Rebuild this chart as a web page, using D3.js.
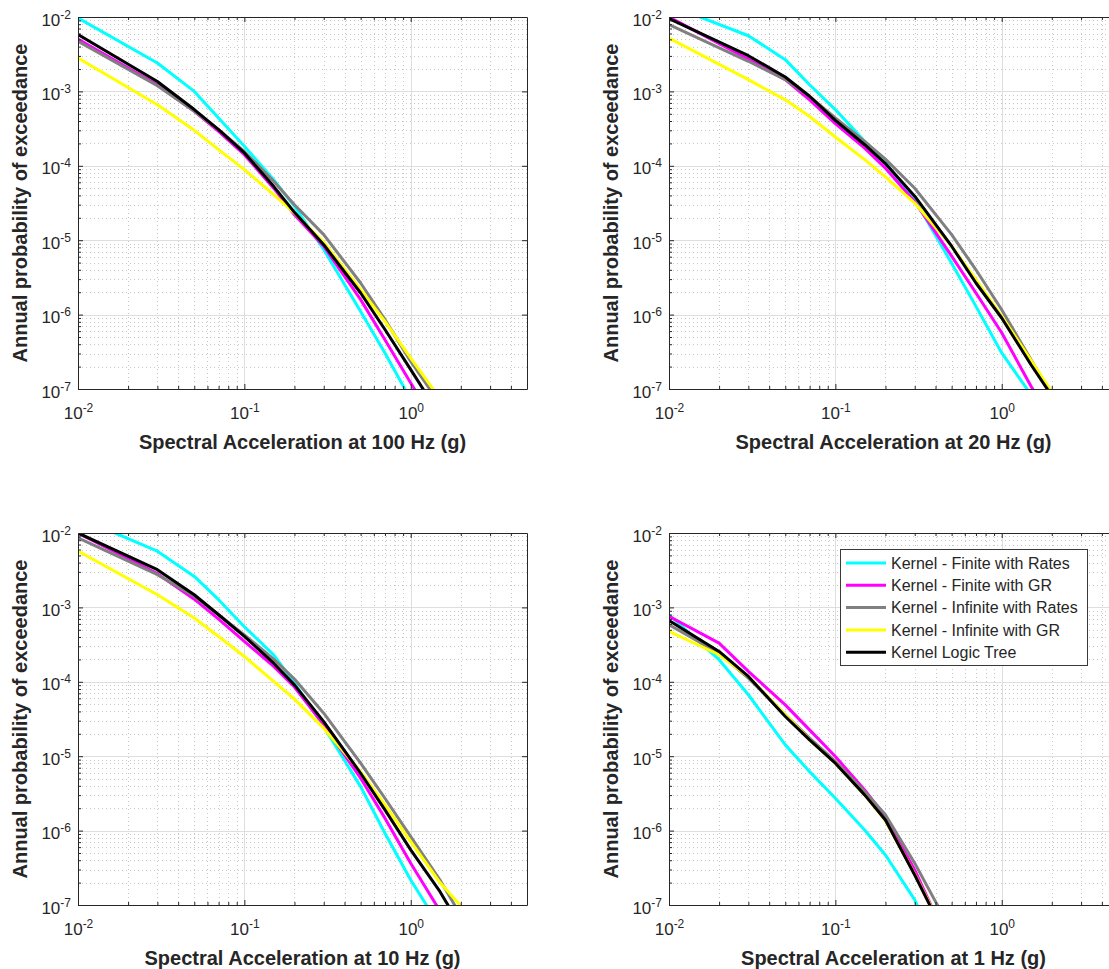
<!DOCTYPE html>
<html>
<head>
<meta charset="utf-8">
<script src="https://cdn.jsdelivr.net/npm/d3@7"></script>
<style>
  body { margin: 0; background: #fff; }
  svg { display: block; }
  text { font-family: "Liberation Sans", Arial, Helvetica, sans-serif; }
</style>
</head>
<body>
<svg id="chart" width="1109" height="969"></svg>
<script>
// ---------------- DATA ----------------
const seriesNames = [
  "Kernel - Finite with Rates",
  "Kernel - Finite with GR",
  "Kernel - Infinite with Rates",
  "Kernel - Infinite with GR",
  "Kernel Logic Tree"
];
const seriesColors = ["#00ffff", "#ff00ff", "#808080", "#ffff00", "#000000"];

const xDomain = [0.01, 5];
const yDomain = [1e-7, 1e-2];
const xTickValues = [0.01, 0.1, 1];
const yTickValues = [1e-7, 1e-6, 1e-5, 1e-4, 1e-3, 1e-2];

const xLabels = [
  "Spectral Acceleration at 100 Hz (g)",
  "Spectral Acceleration at 20 Hz (g)",
  "Spectral Acceleration at 10 Hz (g)",
  "Spectral Acceleration at 1 Hz (g)"
];
const yLabel = "Annual probability of exceedance";

// spectral acceleration grid (g)
const saGrid = [0.01, 0.03, 0.05, 0.07, 0.1, 0.15, 0.2, 0.3, 0.5, 0.7, 1.0, 1.5, 2.0];
const saGrid1Hz = [0.01, 0.02, 0.03, 0.05, 0.07, 0.1, 0.15, 0.2, 0.3, 0.4, 0.5];

// 100 Hz
const hz100FiniteRates   = [9.7e-3, 2.41e-3, 1.0e-3, 4.4e-4, 1.83e-4, 6.5e-5, 2.85e-5, 7.5e-6, 1.1e-6, 3.05e-7, 7.2e-8, 2e-8, 1e-8];
const hz100FiniteGR      = [5.06e-3, 1.23e-3, 5.4e-4, 2.9e-4, 1.41e-4, 5.0e-5, 2.2e-5, 8.3e-6, 1.59e-6, 4.6e-7, 1.2e-7, 2.8e-8, 1.2e-8];
const hz100InfiniteRates = [4.7e-3, 1.19e-3, 5.4e-4, 3.06e-4, 1.56e-4, 6.2e-5, 3.0e-5, 1.19e-5, 2.66e-6, 8.55e-7, 2.35e-7, 6.3e-8, 2.5e-8];
const hz100InfiniteGR    = [2.81e-3, 6.6e-4, 3.0e-4, 1.65e-4, 8.9e-5, 4.1e-5, 2.32e-5, 9.4e-6, 2.16e-6, 8.1e-7, 2.6e-7, 7.4e-8, 3e-8];
const hz100LogicTree     = [5.8e-3, 1.36e-3, 5.7e-4, 3.06e-4, 1.49e-4, 5.3e-5, 2.37e-5, 8.7e-6, 1.95e-6, 6.3e-7, 1.82e-7, 4.4e-8, 1.8e-8];

// 20 Hz
const hz20FiniteRates   = [1.45e-2, 5.6e-3, 2.67e-3, 1.23e-3, 5.7e-4, 2.13e-4, 1.09e-4, 3.5e-5, 4.9e-6, 1.29e-6, 3.05e-7, 8.4e-8, 3.2e-8];
const hz20FiniteGR      = [1.0e-2, 2.72e-3, 1.44e-3, 7.7e-4, 3.68e-4, 1.73e-4, 9.3e-5, 3.3e-5, 6.1e-6, 1.95e-6, 5.7e-7, 1.09e-7, 3.9e-8];
const hz20InfiniteRates = [7.9e-3, 2.54e-3, 1.44e-3, 8.6e-4, 4.39e-4, 2.13e-4, 1.23e-4, 5.0e-5, 1.19e-5, 4.0e-6, 1.16e-6, 2.48e-7, 8.1e-8];
const hz20InfiniteGR    = [5.2e-3, 1.44e-3, 7.7e-4, 4.6e-4, 2.44e-4, 1.21e-4, 7.1e-5, 3.16e-5, 8.3e-6, 2.95e-6, 9.5e-7, 2.43e-7, 9.1e-8];
const hz20LogicTree     = [9.5e-3, 3.02e-3, 1.56e-3, 8.6e-4, 4.08e-4, 1.92e-4, 1.07e-4, 3.9e-5, 8.3e-6, 2.66e-6, 9.0e-7, 2.12e-7, 8.1e-8];

// 10 Hz
const hz10FiniteRates   = [1.63e-2, 5.7e-3, 2.61e-3, 1.27e-3, 5.5e-4, 2.3e-4, 9.6e-5, 2.5e-5, 3.9e-6, 9.2e-7, 2.17e-7, 5.1e-8, 2.5e-8];
const hz10FiniteGR      = [1.0e-2, 2.84e-3, 1.29e-3, 6.97e-4, 3.49e-4, 1.61e-4, 8.5e-5, 2.64e-5, 5.06e-6, 1.47e-6, 3.64e-7, 8.3e-8, 4e-8];
const hz10InfiniteRates = [8.6e-3, 2.75e-3, 1.41e-3, 7.96e-4, 4.28e-4, 2.02e-4, 1.09e-4, 3.79e-5, 8.05e-6, 2.72e-6, 8.3e-7, 2.17e-7, 7.2e-8];
const hz10InfiniteGR    = [5.7e-3, 1.48e-3, 7.2e-4, 4.07e-4, 2.19e-4, 1.01e-4, 5.85e-5, 2.38e-5, 6.2e-6, 2.21e-6, 7.1e-7, 2.0e-7, 9.7e-8];
const hz10LogicTree     = [1.0e-2, 3.21e-3, 1.48e-3, 7.96e-4, 4.07e-4, 1.78e-4, 9.1e-5, 2.92e-5, 5.9e-6, 1.9e-6, 5.5e-7, 1.51e-7, 5.1e-8];

// 1 Hz
const hz1FiniteRates   = [7.96e-4, 1.98e-4, 6.7e-5, 1.42e-5, 6.2e-6, 2.72e-6, 1.02e-6, 4.7e-7, 1.17e-7, 2.9e-8, 1.5e-8];
const hz1FiniteGR      = [7.57e-4, 3.31e-4, 1.38e-4, 4.9e-5, 2.26e-5, 9.9e-6, 3.52e-6, 1.54e-6, 2.96e-7, 7.3e-8, 2.5e-8];
const hz1InfiniteRates = [5.85e-4, 2.43e-4, 1.12e-4, 3.6e-5, 1.75e-5, 8.5e-6, 3.35e-6, 1.63e-6, 3.64e-7, 1.11e-7, 4.6e-8];
const hz1InfiniteGR    = [4.75e-4, 2.31e-4, 1.18e-4, 3.6e-5, 1.66e-5, 8.05e-6, 3.02e-6, 1.36e-6, 2.59e-7, 7.3e-8, 2.5e-8];
const hz1LogicTree     = [6.68e-4, 2.56e-4, 1.18e-4, 3.42e-5, 1.66e-5, 8.05e-6, 3.02e-6, 1.39e-6, 2.53e-7, 7.0e-8, 2.5e-8];

// ---------------- LAYOUT ----------------
const PW = 449, PH = 372;
const panels = [
  { left: 78,  top: 17,  xs: saGrid,    label: xLabels[0], series: [hz100FiniteRates, hz100FiniteGR, hz100InfiniteRates, hz100InfiniteGR, hz100LogicTree] },
  { left: 669, top: 17,  xs: saGrid,    label: xLabels[1], series: [hz20FiniteRates, hz20FiniteGR, hz20InfiniteRates, hz20InfiniteGR, hz20LogicTree] },
  { left: 78,  top: 533, xs: saGrid,    label: xLabels[2], series: [hz10FiniteRates, hz10FiniteGR, hz10InfiniteRates, hz10InfiniteGR, hz10LogicTree] },
  { left: 669, top: 533, xs: saGrid1Hz, label: xLabels[3], series: [hz1FiniteRates, hz1FiniteGR, hz1InfiniteRates, hz1InfiniteGR, hz1LogicTree], legend: true }
];

const TXT = "#262626";
const FONT = "'Liberation Sans', Arial, Helvetica, sans-serif";
const svg = d3.select("#chart");
svg.append("rect").attr("width", 1109).attr("height", 969).attr("fill", "#fff");

function minorValues(dom) {
  const out = [];
  const e0 = Math.floor(Math.log10(dom[0])), e1 = Math.ceil(Math.log10(dom[1]));
  for (let e = e0; e <= e1; e++) {
    for (let m = 2; m <= 9; m++) {
      const v = +(m * Math.pow(10, e)).toPrecision(6);
      if (v > dom[0] && v < dom[1]) out.push(v);
    }
  }
  return out;
}
const xMinor = minorValues(xDomain);
const yMinor = minorValues(yDomain);

function styleAxis(sel) {
  sel.attr("color", TXT).attr("font-size", 17).attr("font-family", FONT);
}
function supLabels(sel) {
  sel.selectAll(".tick text").each(function(d) {
    const t = d3.select(this);
    t.text(null);
    t.append("tspan").text("10");
    t.append("tspan").attr("dy", -7).attr("font-size", 12).text(String(Math.round(Math.log10(d))));
  });
}

panels.forEach((p, pi) => {
  const g = svg.append("g").attr("transform", `translate(${p.left},${p.top})`);
  const x = d3.scaleLog().domain(xDomain).range([0, PW]);
  const y = d3.scaleLog().domain(yDomain).range([PH, 0]);

  // minor grid (dotted)
  const grid = g.append("g");
  grid.selectAll("line.xm").data(xMinor).join("line")
    .attr("x1", d => Math.round(x(d)) + 0.5).attr("x2", d => Math.round(x(d)) + 0.5)
    .attr("y1", 0).attr("y2", PH)
    .attr("stroke", "#c8c8c8").attr("stroke-dasharray", "1,3");
  grid.selectAll("line.ym").data(yMinor).join("line")
    .attr("y1", d => Math.round(y(d)) + 0.5).attr("y2", d => Math.round(y(d)) + 0.5)
    .attr("x1", 0).attr("x2", PW)
    .attr("stroke", "#c8c8c8").attr("stroke-dasharray", "1,3");
  // major grid
  grid.selectAll("line.xM").data(xTickValues).join("line")
    .attr("x1", d => Math.round(x(d)) + 0.5).attr("x2", d => Math.round(x(d)) + 0.5)
    .attr("y1", 0).attr("y2", PH).attr("stroke", "#dedede");
  grid.selectAll("line.yM").data(yTickValues).join("line")
    .attr("y1", d => Math.round(y(d)) + 0.5).attr("y2", d => Math.round(y(d)) + 0.5)
    .attr("x1", 0).attr("x2", PW).attr("stroke", "#dedede");

  // curves
  const clipId = "clip" + pi;
  g.append("clipPath").attr("id", clipId).append("rect").attr("width", PW).attr("height", PH);
  const line = d3.line().x(d => x(d[0])).y(d => y(d[1]));
  const curves = g.append("g").attr("clip-path", `url(#${clipId})`);
  p.series.forEach((vals, si) => {
    curves.append("path")
      .datum(p.xs.map((xv, i) => [xv, vals[i]]))
      .attr("d", line)
      .attr("fill", "none")
      .attr("stroke", seriesColors[si])
      .attr("stroke-width", 3)
      .attr("stroke-linejoin", "round");
  });

  // axes (box)
  const xb = g.append("g").attr("transform", `translate(0,${PH})`)
    .call(d3.axisBottom(x).tickValues(xTickValues).tickSize(-5).tickSizeOuter(0).tickFormat(() => ""))
    .call(styleAxis);
  xb.selectAll(".tick text").attr("y", 30).attr("dy", 0);
  supLabels(xb);
  g.append("g").attr("transform", `translate(0,${PH})`)
    .call(d3.axisBottom(x).tickValues(xMinor).tickSize(-3).tickFormat(() => ""))
    .call(styleAxis)
    .call(s => s.select(".domain").remove());

  g.append("g")
    .call(d3.axisTop(x).tickValues(xTickValues).tickSize(-5).tickSizeOuter(0).tickFormat(() => ""))
    .call(styleAxis);
  g.append("g")
    .call(d3.axisTop(x).tickValues(xMinor).tickSize(-3).tickFormat(() => ""))
    .call(styleAxis)
    .call(s => s.select(".domain").remove());

  const yl = g.append("g")
    .call(d3.axisLeft(y).tickValues(yTickValues).tickSize(-5).tickSizeOuter(0).tickPadding(7).tickFormat(() => ""))
    .call(styleAxis);
  yl.selectAll(".tick text").attr("dy", 0).attr("y", 8);
  supLabels(yl);
  g.append("g")
    .call(d3.axisLeft(y).tickValues(yMinor).tickSize(-3).tickFormat(() => ""))
    .call(styleAxis)
    .call(s => s.select(".domain").remove());

  g.append("g").attr("transform", `translate(${PW},0)`)
    .call(d3.axisRight(y).tickValues(yTickValues).tickSize(-5).tickSizeOuter(0).tickFormat(() => ""))
    .call(styleAxis);

  // axis titles
  g.append("text")
    .attr("x", PW / 2).attr("y", PH + 60)
    .attr("text-anchor", "middle")
    .attr("font-size", 20).attr("font-weight", "bold").attr("fill", TXT)
    .text(p.label);
  g.append("text")
    .attr("transform", "rotate(-90)")
    .attr("x", -PH / 2).attr("y", -51)
    .attr("text-anchor", "middle")
    .attr("font-size", 20).attr("font-weight", "bold").attr("fill", TXT)
    .text(yLabel);

  // legend
  if (p.legend) {
    const lg = g.append("g").attr("transform", "translate(171,16)");
    lg.append("rect").attr("x", 0.5).attr("y", 0.5).attr("width", 247).attr("height", 116)
      .attr("fill", "#fff").attr("stroke", "#3a3a3a").attr("stroke-width", 1);
    seriesNames.forEach((name, i) => {
      const cy = 14 + i * 22.3;
      lg.append("line").attr("x1", 6).attr("x2", 46).attr("y1", cy).attr("y2", cy)
        .attr("stroke", seriesColors[i]).attr("stroke-width", 3);
      lg.append("text").attr("x", 51).attr("y", cy).attr("dy", "0.36em")
        .attr("font-size", 16).attr("fill", TXT).text(name);
    });
  }
});
</script>
</body>
</html>
